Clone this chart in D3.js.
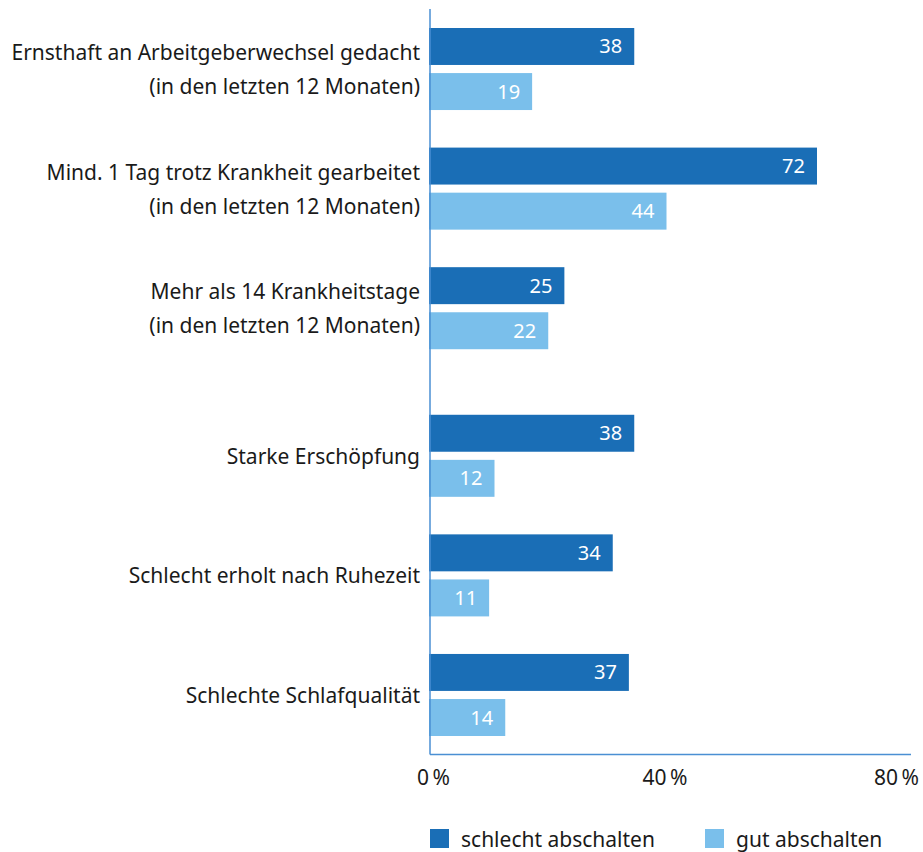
<!DOCTYPE html>
<html>
<head>
<meta charset="utf-8">
<script src="https://cdn.jsdelivr.net/npm/d3@7"></script>
<style>
  body { margin: 0; background: #fff; }
  text { font-family: "Noto Sans", sans-serif; fill: #1a1a1a; }
</style>
</head>
<body>
<script>
// categories (label lines) and values per series
var categories = [
    ["Ernsthaft an Arbeitgeberwechsel gedacht", "(in den letzten 12 Monaten)"],
    ["Mind. 1 Tag trotz Krankheit gearbeitet", "(in den letzten 12 Monaten)"],
    ["Mehr als 14 Krankheitstage", "(in den letzten 12 Monaten)"],
    ["Starke Erschöpfung"],
    ["Schlecht erholt nach Ruhezeit"],
    ["Schlechte Schlafqualität"]
];
var seriesNames = ["schlecht abschalten", "gut abschalten"];
var schlechtValues = [38, 72, 25, 38, 34, 37];
var gutValues = [19, 44, 22, 12, 11, 14];
var tickValues = [0, 40, 80];

var colors = ["#1a6eb6", "#7abfeb"];
var axisColor = "#4a8fd3";

var svg = d3.select("body")
    .append("svg")
    .attr("width", 923)
    .attr("height", 852)
    .style("display", "block");

var sectionGap = 28; // extra space between the two blocks of rows

var keys = categories.map(function (d, i) { return "c" + i; });
var rows = keys.map(function (k, i) {
    return {key: k, lines: categories[i], values: [schlechtValues[i], gutValues[i]]};
});

var y = d3.scaleBand()
    .domain(keys)
    .range([28, 708])
    .paddingInner(0.314)
    .paddingOuter(0);

var ySub = d3.scaleBand()
    .domain(seriesNames)
    .range([0, y.bandwidth()])
    .paddingInner(0.18);

var x = d3.scaleLinear()
    .domain([0, 80])
    .range([430, 860]);

var tickX = d3.scaleLinear()
    .domain([0, 80])
    .range([433, 896]);

function rowTop(d, i) {
    return y(d.key) + (i >= 3 ? sectionGap : 0);
}

var groups = svg.selectAll(".row")
    .data(rows)
    .enter()
    .append("g")
    .attr("class", "row")
    .attr("transform", function (d, i) { return "translate(0," + rowTop(d, i) + ")"; });

groups.selectAll("rect")
    .data(function (d) { return d.values.map(function (v, j) { return {name: seriesNames[j], value: v, j: j}; }); })
    .enter()
    .append("rect")
    .attr("x", x(0) - 1)
    .attr("y", function (d) { return ySub(d.name); })
    .attr("width", function (d) { return x(d.value) - x(0) + 1; })
    .attr("height", ySub.bandwidth())
    .attr("fill", function (d) { return colors[d.j]; });

groups.selectAll(".val")
    .data(function (d) { return d.values.map(function (v, j) { return {name: seriesNames[j], value: v}; }); })
    .enter()
    .append("text")
    .attr("class", "val")
    .attr("x", function (d) { return x(d.value) - 12; })
    .attr("y", function (d) { return ySub(d.name) + ySub.bandwidth() / 2 + 7; })
    .attr("text-anchor", "end")
    .style("fill", "#fff")
    .style("font-size", "20px")
    .text(function (d) { return d.value; });

// category labels
var lineGap = 34;
groups.each(function (d) {
    var n = d.lines.length;
    var mid = y.bandwidth() / 2 + 8;
    d3.select(this).selectAll(".cat")
        .data(d.lines)
        .enter()
        .append("text")
        .attr("class", "cat")
        .attr("x", 420)
        .attr("y", function (l, k) { return mid + (k - (n - 1) / 2) * lineGap; })
        .attr("text-anchor", "end")
        .style("font-size", "21px")
        .text(function (l) { return l; });
});

// axis lines
svg.append("line")
    .attr("x1", x(0)).attr("x2", x(0))
    .attr("y1", 9).attr("y2", 754.5)
    .attr("stroke", axisColor)
    .attr("stroke-width", 1.5);

svg.append("line")
    .attr("x1", x(0)).attr("x2", 911)
    .attr("y1", 754.5).attr("y2", 754.5)
    .attr("stroke", axisColor)
    .attr("stroke-width", 1.5);

var xAxis = d3.axisBottom(tickX)
    .tickValues(tickValues)
    .tickSize(0)
    .tickFormat(function (d) { return d + "\u2009%"; });

var axisG = svg.append("g")
    .attr("transform", "translate(0,767)")
    .call(xAxis);
axisG.select(".domain").remove();
axisG.selectAll("text")
    .style("font-size", "21px")
    .style("font-family", "'Noto Sans', sans-serif")
    .attr("fill", "#1a1a1a");

// legend
var legendX = [430, 705];
var legend = svg.selectAll(".legend")
    .data(seriesNames)
    .enter()
    .append("g")
    .attr("class", "legend")
    .attr("transform", function (d, i) { return "translate(" + legendX[i] + ",829)"; });

legend.append("rect")
    .attr("width", 19)
    .attr("height", 19)
    .attr("fill", function (d, i) { return colors[i]; });

legend.append("text")
    .attr("x", 31)
    .attr("y", 18)
    .style("font-size", "21px")
    .text(function (d) { return d; });
</script>
</body>
</html>
